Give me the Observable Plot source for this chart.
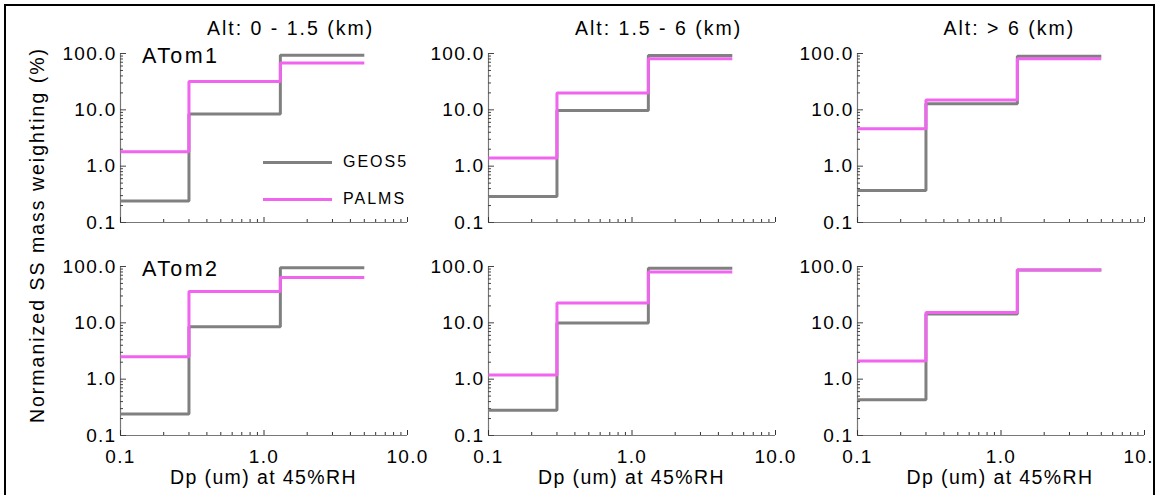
<!DOCTYPE html>
<html><head><meta charset="utf-8">
<script src="https://cdn.jsdelivr.net/npm/d3@7"></script>
<script src="https://cdn.jsdelivr.net/npm/@observablehq/plot@0.6"></script>
<style>
body{margin:0;background:#fff;}
#wrap{position:relative;width:1157px;height:495px;overflow:hidden;font-family:"Liberation Sans",Arial,Helvetica,sans-serif;color:#000;background:#fff;}
#clip{position:absolute;left:0;top:0;width:1153px;height:495px;overflow:hidden;}
.panel{position:absolute;}
.t{position:absolute;white-space:nowrap;line-height:1;}
.sw{position:absolute;height:3px;}
#frame{position:absolute;left:4px;top:4px;width:1151px;height:560px;border:2.5px solid #000;box-sizing:border-box;pointer-events:none;}
</style></head><body>
<div id="wrap"><div id="clip"></div><div id="frame"></div></div>
<script>
// ---- data ----
const binEdges = [0.1, 0.3, 1.3, 5.0];           // Dp size-bin edges (um)
const campaigns = ["ATom1", "ATom2"];
const altitudeBins = ["Alt: 0 - 1.5 (km)", "Alt: 1.5 - 6 (km)", "Alt: > 6 (km)"];
const seriesNames = ["GEOS5", "PALMS"];
const seriesColors = ["#808080", "#f064f0"];
// normalized SS mass weighting (%) per size bin, one triple per altitude bin
const geos5Atom1 = [[0.24, 8.4, 93], [0.29, 9.7, 92], [0.37, 12.8, 89]];
const palmsAtom1 = [[1.8, 32, 68], [1.4, 20, 81], [4.6, 15, 81]];
const geos5Atom2 = [[0.24, 8.5, 95], [0.28, 9.9, 93], [0.43, 14.3, 87]];
const palmsAtom2 = [[2.5, 36, 64], [1.18, 22.5, 80], [2.1, 15.3, 87]];
const yTicks = [0.1, 1, 10, 100];
const xTicks = [0.1, 1, 10];
const xLabel = "Dp (um) at 45%RH";
const yLabel = "Normanized SS mass weighting (%)";

const geosByCampaign = [geos5Atom1, geos5Atom2];
const palmsByCampaign = [palmsAtom1, palmsAtom2];
const minor = (majors) => majors.slice(0, -1).flatMap(m => [2,3,4,5,6,7,8,9].map(k => +(m * k).toPrecision(3)));
const yMinor = minor(yTicks);
const xMinor = minor(xTicks);
const steps = (vals) => binEdges.map((e, i) => ({x: e, y: vals[Math.min(i, vals.length - 1)]}));

// ---- layout ----
const PW = 287, PH = 169;
const plotLefts = [120, 488, 856.5];
const plotTops = [53, 265.5];
const ML = 75, MR = 30, MT = 10;
const FONT = '"Liberation Sans", Arial, Helvetica, sans-serif';
const clip = document.getElementById("clip");

function addText(txt, css) {
  const d = document.createElement("div");
  d.className = "t";
  d.textContent = txt;
  Object.assign(d.style, css);
  clip.appendChild(d);
  return d;
}

campaigns.forEach((camp, r) => {
  altitudeBins.forEach((alt, c) => {
    const bottomRow = r === campaigns.length - 1;
    const MB = bottomRow ? 55 : 10;
    const geos = steps(geosByCampaign[r][c]);
    const palms = steps(palmsByCampaign[r][c]);
    const fmt = d => d.toFixed(1);
    const chart = Plot.plot({
      width: ML + PW + MR,
      height: MT + PH + MB,
      marginLeft: ML, marginRight: MR, marginTop: MT, marginBottom: MB,
      x: {type: "log", domain: [0.1, 10], axis: null},
      y: {type: "log", domain: [0.1, 100], axis: null},
      style: {background: "none", fontFamily: FONT, fontSize: "19px", letterSpacing: "1.3px", color: "#000", overflow: "visible"},
      marks: [
        Plot.ruleX([0.1], {stroke: "#777", strokeWidth: 1.2}),
        Plot.ruleY([0.1], {stroke: "#777", strokeWidth: 1.2}),
        Plot.axisY(yTicks, {tickSize: 6, dx: 6, fill: "none", stroke: "#444", label: null}),
        Plot.axisY(yMinor, {tickSize: 3, dx: 3, fill: "none", stroke: "#444", label: null}),
        Plot.axisY(yTicks, {tickSize: 0, tickPadding: 4, tickFormat: fmt, fill: "#000", label: null}),
        Plot.axisX(xTicks, {tickSize: 5, dy: -5, fill: "none", stroke: "#333", label: null}),
        Plot.axisX(xMinor, {tickSize: 3, dy: -3, fill: "none", stroke: "#333", label: null}),
        bottomRow ? Plot.axisX(xTicks, {tickSize: 0, tickPadding: 13.5, tickFormat: fmt, fill: "#000", label: null}) : null,
        Plot.line(geos, {x: "x", y: "y", curve: "step-after", stroke: seriesColors[0], strokeWidth: 3, strokeLinecap: "butt", strokeLinejoin: "miter"}),
        Plot.line(palms, {x: "x", y: "y", curve: "step-after", stroke: seriesColors[1], strokeWidth: 3, strokeLinecap: "butt", strokeLinejoin: "miter"})
      ]
    });
    chart.classList.add("panel");
    chart.style.left = (plotLefts[c] - ML) + "px";
    chart.style.top = (plotTops[r] - MT) + "px";
    chart.style.position = "absolute";
    clip.appendChild(chart);

    if (r === 0) {
      addText(alt, {left: (plotLefts[c] + 87) + "px", top: "18.5px", fontSize: "19.5px", letterSpacing: "2px"});
    }
    if (bottomRow) {
      addText(xLabel, {left: (plotLefts[c] + PW / 2) + "px", top: "467.8px", fontSize: "19.5px", letterSpacing: "1.4px", transform: "translateX(-50%)"});
    }
    if (c === 0) {
      addText(camp, {left: "142px", top: (plotTops[r] - 4 + 0.716 * 21.5 - 0.8465 * 21.5) + "px", fontSize: "21.5px", letterSpacing: "2.4px"});
    }
  });
});

// y label
addText(yLabel, {left: "37.5px", top: "234.5px", fontSize: "19.5px", letterSpacing: "2px", transform: "translate(-50%,-50%) rotate(-90deg)"});

// legend (panel 1)
seriesNames.forEach((name, i) => {
  const cy = [162, 199.3][i];
  const sw = document.createElement("div");
  sw.className = "sw";
  Object.assign(sw.style, {left: "263px", top: (cy - 1.5) + "px", width: "69px", background: seriesColors[i]});
  clip.appendChild(sw);
  addText(name, {left: "343px", top: (cy - 0.489 * 16) + "px", fontSize: "16px", letterSpacing: "2px"});
});
</script></body></html>
